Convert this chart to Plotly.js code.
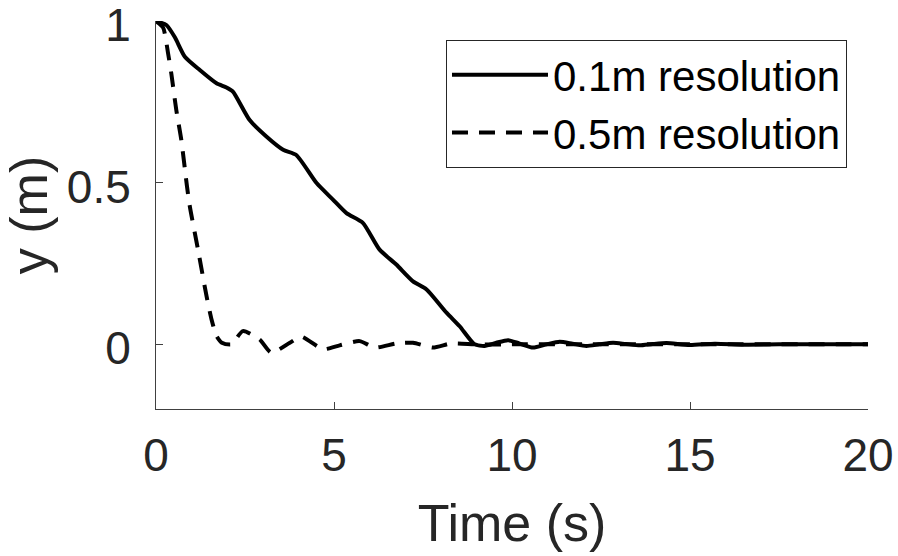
<!DOCTYPE html>
<html>
<head>
<meta charset="utf-8">
<script src="https://cdn.plot.ly/plotly-3.0.1.min.js"></script>
<style>html,body{margin:0;padding:0;background:#fff;}#chart{width:898px;height:556px;}</style>
</head>
<body>
<div id="chart"></div>
<script>
// 0.1m resolution (solid)
const tFine = [0, 0.29, 0.53, 0.81, 1.23, 1.70, 1.98, 2.16, 2.63, 3.10, 3.57, 3.94, 4.51, 4.97, 5.35, 5.81, 6.28, 6.75, 7.22, 7.60, 8.16, 8.53, 8.95, 9.23, 9.56, 9.89, 10.2, 10.59, 10.97, 11.34, 11.7, 12.09, 12.45, 12.84, 13.2, 13.59, 13.95, 14.34, 14.99, 15.7, 16.5, 17.5, 18.5, 20];
const yFine = [1.0, 0.988, 0.95, 0.89, 0.849, 0.808, 0.795, 0.782, 0.694, 0.643, 0.602, 0.586, 0.499, 0.448, 0.406, 0.376, 0.293, 0.247, 0.195, 0.170, 0.098, 0.056, 0.0, -0.005, 0.005, 0.013, 0.003, -0.010, 0.0, 0.008, 0.002, -0.005, 0.0, 0.005, 0.001, -0.003, 0.001, 0.004, -0.002, 0.002, -0.001, 0.0, 0.0, 0.0];
// 0.5m resolution (dashed)
const tCoarse = [0, 0.2, 0.34, 0.43, 0.57, 0.71, 0.87, 0.95, 1.18, 1.42, 1.56, 1.70, 1.85, 2.12, 2.44, 2.91, 3.24, 3.76, 4.08, 4.69, 5.16, 5.72, 6.15, 6.75, 7.22, 7.78, 8.30, 9.0, 10, 12, 15, 20];
const yCoarse = [1.0, 0.98, 0.90, 0.838, 0.725, 0.633, 0.489, 0.427, 0.293, 0.149, 0.077, 0.026, 0.005, 0.0, 0.041, 0.015, -0.026, 0.005, 0.024, -0.015, -0.003, 0.010, -0.010, 0.003, 0.005, -0.010, 0.003, 0.0, 0.0, 0.0, 0.0, 0.0];
const seriesNames = ['0.1m resolution', '0.5m resolution'];
const xTicks = [0, 5, 10, 15, 20];
const xTickLabels = ['0', '5', '10', '15', '20'];
const yTicks = [0, 0.5, 1];
const yTickLabels = ['0', '0.5', '1'];

const FONT = 'Liberation Sans, Arial, Helvetica, sans-serif';
const INK = '#262626';

const traces = [
  {x: tFine, y: yFine, name: seriesNames[0], mode: 'lines', line: {color: '#000', width: 4, shape: 'spline', smoothing: 0.6}},
  {x: tCoarse, y: yCoarse, name: seriesNames[1], mode: 'lines', line: {color: '#000', width: 4, dash: '16px,11px', shape: 'spline', smoothing: 0.6}}
];

const layout = {
  width: 898, height: 556,
  margin: {l: 156, r: 30, t: 21, b: 147, pad: 0},
  paper_bgcolor: '#fff', plot_bgcolor: '#fff',
  font: {family: FONT, color: INK, size: 46},
  showlegend: true,
  legend: {
    x: 0.9705, y: 0.951, xanchor: 'right', yanchor: 'top',
    bordercolor: INK, borderwidth: 1, bgcolor: '#fff',
    font: {family: FONT, size: 42, color: '#000'},
    itemwidth: 96, tracegroupgap: 0
  },
  xaxis: {
    range: [0, 20], tickvals: xTicks, ticktext: xTickLabels,
    showline: true, linecolor: '#404040', linewidth: 1, mirror: false,
    ticks: 'inside', ticklen: 7, tickcolor: '#404040', tickwidth: 1,
    showgrid: false, zeroline: false,
    tickfont: {family: FONT, size: 46, color: INK},
    ticklabelstandoff: 6,
    title: {text: 'Time (s)', font: {family: FONT, size: 52, color: INK}, standoff: 24}
  },
  yaxis: {
    range: [-0.2, 1.0005], tickvals: yTicks, ticktext: yTickLabels,
    showline: true, linecolor: '#404040', linewidth: 1, mirror: false,
    ticks: 'inside', ticklen: 7, tickcolor: '#404040', tickwidth: 1,
    showgrid: false, zeroline: false,
    tickfont: {family: FONT, size: 46, color: INK},
    ticklabelstandoff: 15, ticklabeloverflow: 'allow', ticklabelshift: 4,
    title: {text: 'y (m)', font: {family: FONT, size: 52, color: INK}, standoff: 2}
  }
};

Plotly.newPlot('chart', traces, layout, {staticPlot: true, displayModeBar: false});
</script>
</body>
</html>
